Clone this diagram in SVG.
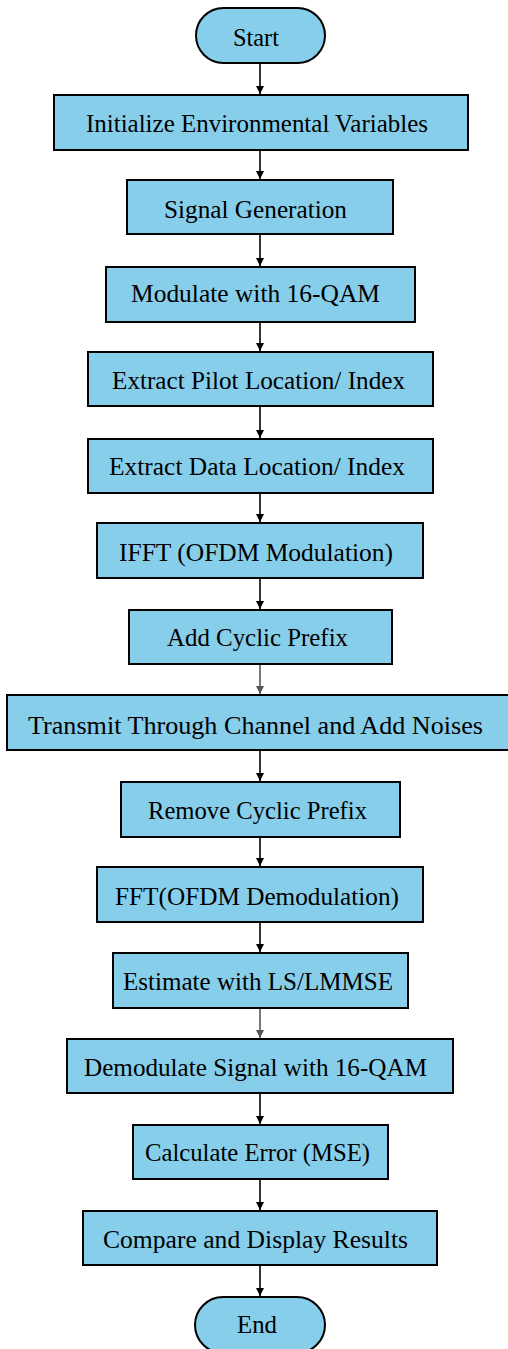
<svg xmlns="http://www.w3.org/2000/svg" width="508" height="1349" viewBox="0 0 508 1349">
<style>
.n{fill:#87CEEB;stroke:#000;stroke-width:2}
.t{font-family:"Liberation Serif","Times New Roman",serif;font-size:26px;fill:#000;text-anchor:middle}
.c{stroke:#000;stroke-width:1.6;fill:none;marker-end:url(#ah)}
.g{stroke:#555;stroke-width:1.6;fill:none;marker-end:url(#ahg)}
</style>
<defs>
<marker id="ah" viewBox="0 0 10 10" refX="10" refY="5" markerWidth="5" markerHeight="5" orient="auto" markerUnits="strokeWidth"><path d="M0,0 L10,5 L0,10 z" fill="#000"/></marker>
<marker id="ahg" viewBox="0 0 10 10" refX="10" refY="5" markerWidth="5" markerHeight="5" orient="auto" markerUnits="strokeWidth"><path d="M0,0 L10,5 L0,10 z" fill="#555"/></marker>
</defs>
<rect width="508" height="1349" fill="#fff"/>
<g id="connectors">
<line class="c" x1="260" y1="63" x2="260" y2="94"/>
<line class="c" x1="260" y1="150" x2="260" y2="179"/>
<line class="c" x1="260" y1="234" x2="260" y2="266"/>
<line class="c" x1="260" y1="322" x2="260" y2="351"/>
<line class="c" x1="260" y1="406" x2="260" y2="438"/>
<line class="c" x1="260" y1="493" x2="260" y2="522"/>
<line class="c" x1="260" y1="578" x2="260" y2="609"/>
<line class="g" x1="260" y1="664" x2="260" y2="694"/>
<line class="c" x1="260" y1="750" x2="260" y2="781"/>
<line class="c" x1="260" y1="837" x2="260" y2="866"/>
<line class="c" x1="260" y1="922" x2="260" y2="952"/>
<line class="g" x1="260" y1="1008" x2="260" y2="1038"/>
<line class="c" x1="260" y1="1093" x2="260" y2="1124"/>
<line class="c" x1="260" y1="1179" x2="260" y2="1210"/>
<line class="c" x1="260" y1="1265" x2="260" y2="1296"/>
</g>
<g id="start"><rect class="n" x="196" y="8" width="129" height="55" rx="27.5"/><text class="t" x="256" y="46" textLength="46" lengthAdjust="spacingAndGlyphs">Start</text></g>
<g id="init"><rect class="n" x="54" y="95" width="414" height="55"/><text class="t" x="257" y="132" textLength="342" lengthAdjust="spacingAndGlyphs">Initialize Environmental Variables</text></g>
<g id="siggen"><rect class="n" x="127" y="180" width="266" height="54"/><text class="t" x="255.5" y="218" textLength="183" lengthAdjust="spacingAndGlyphs">Signal Generation</text></g>
<g id="modulate"><rect class="n" x="106" y="267" width="309" height="55"/><text class="t" x="255.5" y="302" textLength="249" lengthAdjust="spacingAndGlyphs">Modulate with 16-QAM</text></g>
<g id="pilot"><rect class="n" x="88" y="352" width="345" height="54"/><text class="t" x="258.5" y="389" textLength="293" lengthAdjust="spacingAndGlyphs">Extract Pilot Location/ Index</text></g>
<g id="data"><rect class="n" x="88" y="439" width="345" height="54"/><text class="t" x="257" y="475" textLength="296" lengthAdjust="spacingAndGlyphs">Extract Data Location/ Index</text></g>
<g id="ifft"><rect class="n" x="97" y="523" width="326" height="55"/><text class="t" x="256" y="561" textLength="274" lengthAdjust="spacingAndGlyphs">IFFT (OFDM Modulation)</text></g>
<g id="addcp"><rect class="n" x="129" y="610" width="263" height="54"/><text class="t" x="257.5" y="646" textLength="181" lengthAdjust="spacingAndGlyphs">Add Cyclic Prefix</text></g>
<g id="transmit"><rect class="n" x="7" y="695" width="506" height="55"/><text class="t" x="255.5" y="734" textLength="455" lengthAdjust="spacingAndGlyphs">Transmit Through Channel and Add Noises</text></g>
<g id="removecp"><rect class="n" x="121" y="782" width="279" height="55"/><text class="t" x="257.5" y="819" textLength="219" lengthAdjust="spacingAndGlyphs">Remove Cyclic Prefix</text></g>
<g id="fft"><rect class="n" x="97" y="867" width="326" height="55"/><text class="t" x="257" y="905" textLength="284" lengthAdjust="spacingAndGlyphs">FFT(OFDM Demodulation)</text></g>
<g id="estimate"><rect class="n" x="113" y="953" width="295" height="55"/><text class="t" x="258" y="990" textLength="270" lengthAdjust="spacingAndGlyphs">Estimate with LS/LMMSE</text></g>
<g id="demod"><rect class="n" x="67" y="1039" width="386" height="54"/><text class="t" x="255.5" y="1076" textLength="343" lengthAdjust="spacingAndGlyphs">Demodulate Signal with 16-QAM</text></g>
<g id="calc"><rect class="n" x="133" y="1125" width="255" height="54"/><text class="t" x="257.5" y="1161" textLength="225" lengthAdjust="spacingAndGlyphs">Calculate Error (MSE)</text></g>
<g id="compare"><rect class="n" x="83" y="1211" width="354" height="54"/><text class="t" x="255.5" y="1248" textLength="305" lengthAdjust="spacingAndGlyphs">Compare and Display Results</text></g>
<g id="end"><rect class="n" x="195" y="1297" width="130" height="56" rx="28"/><text class="t" x="257" y="1333" textLength="40" lengthAdjust="spacingAndGlyphs">End</text></g>
</svg>
